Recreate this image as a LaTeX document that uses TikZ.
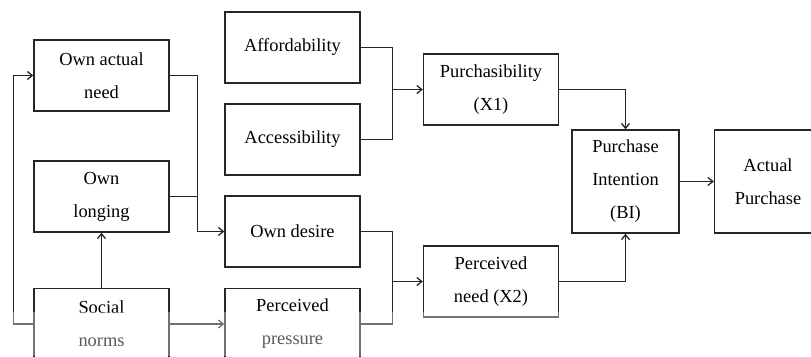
\documentclass[tikz,border=0pt]{standalone}
\usepackage{fontspec}
\setmainfont{Liberation Serif}
\usetikzlibrary{calc,positioning,arrows.meta}
\tikzstyle{block}     = [rectangle, draw=black!85, line width=1.3pt, minimum width=135pt, minimum height=71pt, align=center, font=\fontsize{18.4}{33}\selectfont, inner sep=0pt]
\tikzstyle{tallblock} = [block, minimum width=107pt, minimum height=103pt]
\tikzstyle{line}      = [line width=1.3pt, draw=black!85]
\tikzstyle{arrow}     = [line, ->, >={Straight Barb[length=5pt,width=8pt]}]

\begin{document}
\begin{tikzpicture}[x=1pt,y=-1pt]
    \useasboundingbox (0,0) rectangle (811,356);
    \clip (0,0) rectangle (811,356);

    % left column
    \node[block] (need)     at (101.5,75.5)  {Own actual\\need};
    \node[block] (longing)  at (101.5,196.5) {Own\\longing};
    \node[block] (social)   at (101.5,324)   {Social\\norms};

    % second column
    \node[block] (afford)   at (292.5,47.5)  {Affordability};
    \node[block] (access)   at (292.5,139.5) {Accessibility};
    \node[block] (desire)   at (292.5,231.5) {Own desire};
    \node[block] (pressure) at (292.5,324)   {Perceived\\pressure};

    % third column
    \node[block] (purch)    at (491,89.5)    {Purchasibility\\(X1)};
    \node[block] (pneed)    at (491,281.5)   {Perceived\\need (X2)};

    % outcome
    \node[tallblock] (intent) at (625.5,181.5) {Purchase\\Intention\\(BI)};
    \node[tallblock] (actual) at (768,181.5)   {Actual\\Purchase};

    \coordinate (join1) at (392,89.5);
    \coordinate (join2) at (392,281.5);

    \draw[line]  (afford.east) -- ++(32,0) |- (access.east);
    \draw[arrow] (join1) -- (purch.west);
    \draw[arrow] (purch.east) -| (intent.north);

    \draw[arrow] (need.east) -- ++(28,0) |- (desire.west);
    \draw[line]  (longing.east) -- ++(28,0);

    \draw[line]  (desire.east) -- ++(32,0) |- (pressure.east);
    \draw[arrow] (join2) -- (pneed.west);
    \draw[arrow] (pneed.east) -| (intent.south);

    \draw[arrow] (intent) -- (actual);

    \draw[arrow] (social) -- (longing);
    \draw[arrow] (social.west) -- ++(-20,0) |- (need.west);
    \draw[arrow] (social) -- (pressure);

    % faded bottom strip
    \fill[white, opacity=0.35] (0,312) rectangle (811,356);
\end{tikzpicture}
\end{document}
